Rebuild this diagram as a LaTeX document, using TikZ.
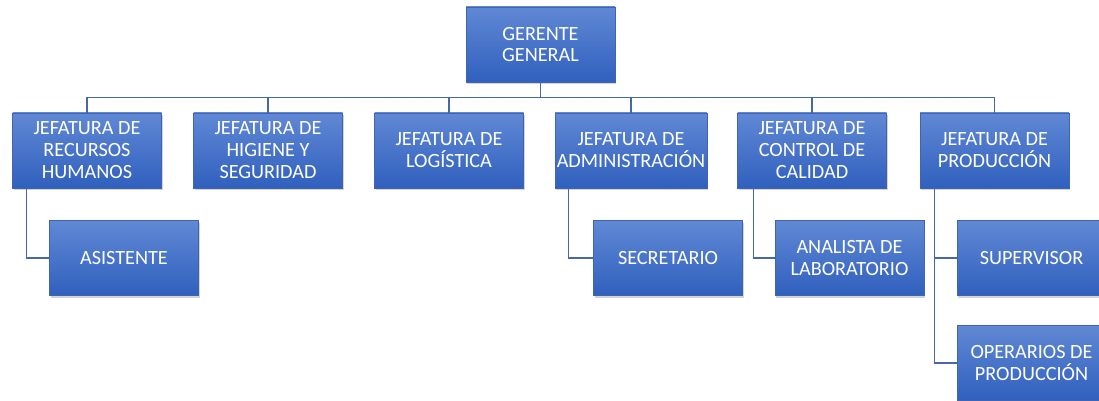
\documentclass[tikz,border=0pt]{standalone}
\usepackage{fontspec}
\setmainfont{Carlito}
\usepackage{xcolor}
\usepackage{tikz}
\usetikzlibrary{positioning,calc,shadows}
\definecolor{orgtop}{RGB}{96,136,212}
\definecolor{orgbottom}{RGB}{48,96,190}
\definecolor{orgedge}{RGB}{64,100,176}
\definecolor{orgline}{RGB}{70,104,170}

\begin{document}
\begin{tikzpicture}[
    font=\fontsize{11.5}{12.5}\selectfont,
    unit/.style={draw=orgedge, line width=0.3pt, top color=orgtop, bottom color=orgbottom, text=white, minimum width=2.98cm, minimum height=1.5cm, align=center, inner sep=1pt, drop shadow={shadow xshift=0.8pt, shadow yshift=-1.2pt, opacity=0.35}},
    link/.style={draw=orgline, line width=0.6pt}
  ]
    \useasboundingbox (0,0) rectangle (21.98,-8);

    \node[unit] (gg) at (10.81,-0.89) {GERENTE\\GENERAL};

    \node[unit] (rrhh) at (1.74,-3.01) {JEFATURA DE\\RECURSOS\\HUMANOS};
    \node[unit] (hig) at (5.36,-3.01) {JEFATURA DE\\HIGIENE Y\\SEGURIDAD};
    \node[unit] (log) at (8.98,-3.01) {JEFATURA DE\\LOGÍSTICA};
    \node[unit] (adm) at (12.62,-3.01) {JEFATURA DE\\ADMINISTRACIÓN};
    \node[unit] (cal) at (16.24,-3.01) {JEFATURA DE\\CONTROL DE\\CALIDAD};
    \node[unit] (prod) at (19.89,-3.01) {JEFATURA DE\\PRODUCCIÓN};

    \node[unit] (asis) at (2.48,-5.16) {ASISTENTE};
    \node[unit] (sec) at (13.36,-5.16) {SECRETARIO};
    \node[unit] (ana) at (16.99,-5.16) {ANALISTA DE\\LABORATORIO};
    \node[unit] (sup) at (20.63,-5.16) {SUPERVISOR};
    \node[unit] (ope) at (20.63,-7.26) {OPERARIOS DE\\PRODUCCIÓN};

    \foreach \s in {rrhh,hig,log,adm,cal,prod}
      \draw[link] (gg.south) |- ([yshift=0.3cm]\s.north) -- (\s.north);
    \draw[link] ([xshift=0.28cm]rrhh.south west) |- (asis.west);
    \draw[link] ([xshift=0.28cm]adm.south west) |- (sec.west);
    \draw[link] ([xshift=0.32cm]cal.south west) |- (ana.west);
    \foreach \c in {sup,ope}
      \draw[link] ([xshift=0.3cm]prod.south west) |- (\c.west);
  \end{tikzpicture}
\end{document}
